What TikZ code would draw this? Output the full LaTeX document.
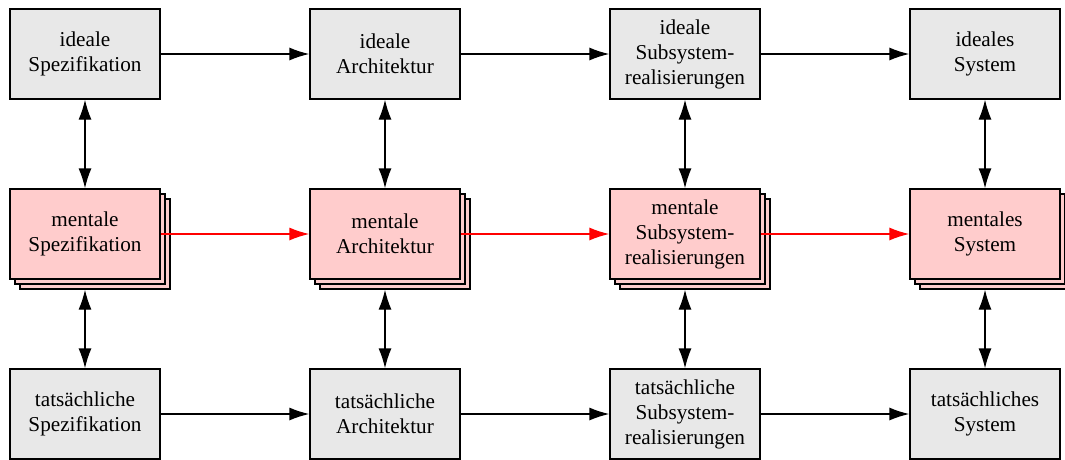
\documentclass[tikz,border=0pt]{standalone}
\usepackage{fontspec}
\setmainfont{Liberation Serif}[Ligatures=TeX]
\newfontfamily\boxfont{Liberation Serif}
\usetikzlibrary{arrows.meta}
\definecolor{boxgray}{HTML}{E8E8E8}
\definecolor{boxpink}{HTML}{FFCCCC}
\definecolor{flowred}{HTML}{FF0000}
\begin{document}
\begin{tikzpicture}[x=1pt,y=-1pt,
  box/.style={draw=black, line width=1.3pt, minimum width=150pt, minimum height=90pt,
    inner sep=0pt, align=center, font=\boxfont\fontsize{21.2}{25}\selectfont},
  ideal/.style={box, fill=boxgray},
  actual/.style={box, fill=boxgray},
  mental/.style={box, fill=boxpink},
  layer/.style={draw=black, line width=1.3pt, fill=boxpink, minimum width=150pt,
    minimum height=90pt, inner sep=0pt},
  flow/.style={line width=1.3pt, -{Latex[length=20pt,width=13pt]}},
  redflow/.style={flow, draw=flowred, -{Latex[length=20pt,width=13pt, fill=flowred]}},
  link/.style={line width=1.3pt, {Latex[length=20pt,width=13pt]}-{Latex[length=20pt,width=13pt]}}]
\useasboundingbox (0,0) rectangle (1065,460);

% top row: ideal artefacts
\node[ideal] (i1) at (85,54)  {ideale\\Spezifikation};
\node[ideal] (i2) at (385,54) {ideale\\Architektur};
\node[ideal] (i3) at (685,54) {ideale\\Subsystem-\\realisierungen};
\node[ideal] (i4) at (985,54) {ideales\\System};

% middle row: mental models, stacked to show several minds
\foreach \n/\x in {1/85,2/385,3/685,4/985}{
  \node[layer] (m\n c) at (\x+10,244) {};
  \node[layer] (m\n b) at (\x+5,239) {};
}
\node[mental] (m1) at (85,234)  {mentale\\Spezifikation};
\node[mental] (m2) at (385,234) {mentale\\Architektur};
\node[mental] (m3) at (685,234) {mentale\\Subsystem-\\realisierungen};
\node[mental] (m4) at (985,234) {mentales\\System};

% bottom row: actual artefacts
\node[actual] (t1) at (85,414)  {tatsächliche\\Spezifikation};
\node[actual] (t2) at (385,414) {tatsächliche\\Architektur};
\node[actual] (t3) at (685,414) {tatsächliche\\Subsystem-\\realisierungen};
\node[actual] (t4) at (985,414) {tatsächliches\\System};

% horizontal flows
\draw[flow] (i1) -- (i2);
\draw[flow] (i2) -- (i3);
\draw[flow] (i3) -- (i4);
\draw[redflow] (m1) -- (m2);
\draw[redflow] (m2) -- (m3);
\draw[redflow] (m3) -- (m4);
\draw[flow] (t1) -- (t2);
\draw[flow] (t2) -- (t3);
\draw[flow] (t3) -- (t4);

% vertical correspondences
\foreach \n in {1,2,3,4}{
  \draw[link] (i\n.south) -- (m\n.north);
  \draw[link] (t\n.north |- m\n c.south) -- (t\n.north);
}
\end{tikzpicture}
\end{document}
